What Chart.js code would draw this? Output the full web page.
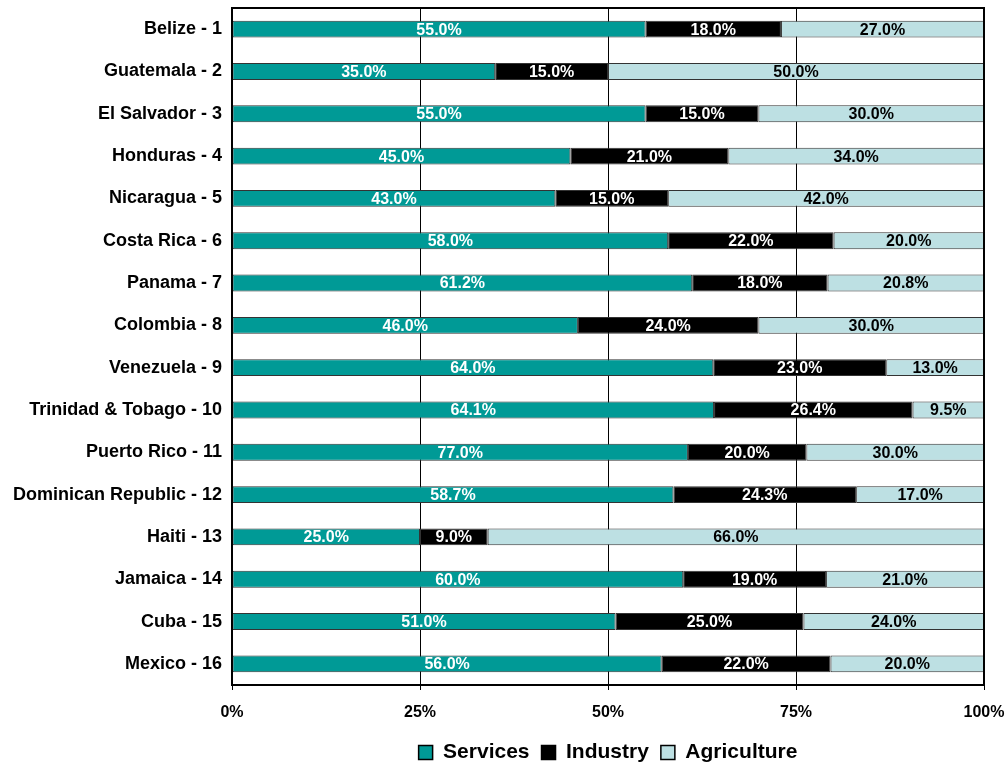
<!DOCTYPE html>
<html>
<head>
<meta charset="utf-8">
<title>Economic structure by sector</title>
<script src="https://cdn.jsdelivr.net/npm/chart.js@4.4.1/dist/chart.umd.min.js"></script>
<style>
  html, body { margin: 0; padding: 0; background: #fff; }
  #wrap { width: 1008px; height: 766px; position: relative; }
</style>
</head>
<body>
<div id="wrap"><canvas id="chart"></canvas></div>
<script>
const countries = [
  "Belize - 1", "Guatemala - 2", "El Salvador - 3", "Honduras - 4",
  "Nicaragua - 5", "Costa Rica - 6", "Panama - 7", "Colombia - 8",
  "Venezuela - 9", "Trinidad & Tobago - 10", "Puerto Rico - 11",
  "Dominican Republic - 12", "Haiti - 13", "Jamaica - 14", "Cuba - 15",
  "Mexico - 16"
];
const services    = [55.0, 35.0, 55.0, 45.0, 43.0, 58.0, 61.2, 46.0, 64.0, 64.1, 77.0, 58.7, 25.0, 60.0, 51.0, 56.0];
const industry    = [18.0, 15.0, 15.0, 21.0, 15.0, 22.0, 18.0, 24.0, 23.0, 26.4, 20.0, 24.3,  9.0, 19.0, 25.0, 22.0];
const agriculture = [27.0, 50.0, 30.0, 34.0, 42.0, 20.0, 20.8, 30.0, 13.0,  9.5, 30.0, 17.0, 66.0, 21.0, 24.0, 20.0];
const xTicks = [0, 25, 50, 75, 100];

const FONT = "'Liberation Sans', Arial, sans-serif";

// bars are drawn as shares of each row's total (100% stacked)
const totals = countries.map((_, i) => services[i] + industry[i] + agriculture[i]);
const share = arr => arr.map((v, i) => v / totals[i] * 100);

const series = [
  { label: "Services", values: services, color: "#009a96", text: "#fff" },
  { label: "Industry", values: industry, color: "#000000", text: "#fff" },
  { label: "Agriculture", values: agriculture, color: "#bde0e3", text: "#000" }
];

// writes the stated value in the middle of each segment
const segmentLabels = {
  id: "segmentLabels",
  afterDatasetsDraw(chart) {
    const ctx = chart.ctx;
    ctx.save();
    ctx.font = "bold 16px " + FONT;
    ctx.textAlign = "center";
    ctx.textBaseline = "middle";
    chart.data.datasets.forEach((ds, di) => {
      const meta = chart.getDatasetMeta(di);
      meta.data.forEach((bar, i) => {
        ctx.fillStyle = series[di].text;
        ctx.fillText(series[di].values[i].toFixed(1) + "%", (bar.x + bar.base) / 2, bar.y + 1);
      });
    });
    ctx.restore();
  }
};

// box round the plot area
const plotFrame = {
  id: "plotFrame",
  afterDraw(chart) {
    const a = chart.chartArea;
    const ctx = chart.ctx;
    ctx.save();
    ctx.strokeStyle = "#000";
    ctx.lineWidth = 2;
    ctx.strokeRect(a.left, a.top, a.right - a.left, a.bottom - a.top);
    ctx.restore();
  }
};

new Chart(document.getElementById("chart"), {
  type: "bar",
  data: {
    labels: countries,
    datasets: series.map(s => ({
      label: s.label,
      data: share(s.values),
      backgroundColor: s.color,
      borderColor: "#333",
      borderWidth: 1,
      borderSkipped: false,
      barPercentage: 0.4,
      categoryPercentage: 1.0
    }))
  },
  options: {
    indexAxis: "y",
    responsive: true,
    maintainAspectRatio: false,
    animation: false,
    layout: { padding: { top: 8, right: 24, left: 0, bottom: -7 } },
    scales: {
      x: {
        stacked: true,
        min: 0,
        max: 100,
        afterBuildTicks(scale) { scale.ticks = xTicks.map(v => ({ value: v })); },
        afterFit(scale) {
          scale.height = 45;
          scale.paddingLeft = 0;
          scale.paddingRight = 0;
        },
        grid: { color: "#000", lineWidth: 1, tickLength: 5 },
        border: { color: "#000", width: 2 },
        ticks: {
          color: "#000",
          padding: 13,
          font: { family: FONT, size: 16, weight: "bold" },
          callback: v => v + "%"
        }
      },
      y: {
        stacked: true,
        afterFit(scale) {
          scale.width = 232;
          scale.paddingTop = 0;
          scale.paddingBottom = 0;
        },
        grid: { display: false },
        border: { color: "#000", width: 2 },
        ticks: {
          color: "#000",
          padding: 2,
          font: { family: FONT, size: 18, weight: "bold" }
        }
      }
    },
    plugins: {
      tooltip: { enabled: false },
      legend: {
        position: "bottom",
        fullSize: false,
        labels: {
          color: "#000",
          boxWidth: 14,
          boxHeight: 14,
          padding: 12,
          font: { family: FONT, size: 21, weight: "bold" },
          generateLabels(chart) {
            return chart.data.datasets.map((ds, i) => ({
              text: ds.label,
              fillStyle: ds.backgroundColor,
              strokeStyle: "#000",
              lineWidth: 1.5,
              fontColor: "#000",
              datasetIndex: i
            }));
          }
        }
      }
    }
  },
  plugins: [segmentLabels, plotFrame]
});
</script>
</body>
</html>
